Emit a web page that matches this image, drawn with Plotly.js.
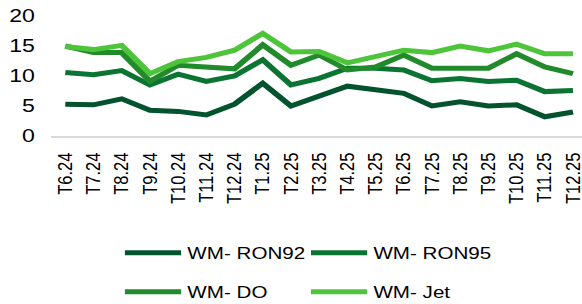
<!DOCTYPE html>
<html><head><meta charset="utf-8">
<script src="https://cdn.plot.ly/plotly-3.0.1.min.js"></script>
<style>html,body{margin:0;padding:0;background:#fff;overflow:hidden}
#c{width:466px;height:304px;transform:scaleX(1.24893);transform-origin:0 0}</style>
</head><body><div id="c"></div>
<script>
const categories = ["T6.24","T7.24","T8.24","T9.24","T10.24","T11.24","T12.24","T1.25","T2.25","T3.25","T4.25","T5.25","T6.25","T7.25","T8.25","T9.25","T10.25","T11.25","T12.25"];
const ron92 = [5.3,5.2,6.2,4.3,4.1,3.5,5.3,8.8,5.0,6.7,8.3,7.7,7.1,5.0,5.7,5.0,5.2,3.2,4.0];
const ron95 = [10.6,10.2,10.9,8.5,10.3,9.1,10.0,12.7,8.5,9.6,11.3,11.3,11.0,9.2,9.6,9.1,9.3,7.4,7.6];
const dieselDO = [15.0,13.9,13.9,9.1,11.8,11.4,11.2,15.2,11.8,13.5,11.0,11.5,13.5,11.3,11.3,11.3,13.7,11.5,10.4];
const jet = [14.9,14.4,15.1,10.4,12.4,13.1,14.3,17.1,14.0,14.1,12.2,13.2,14.3,13.9,15.0,14.2,15.3,13.7,13.7];
const yTicks = [0,5,10,15,20];

const font = "Liberation Sans, Arial, sans-serif";
function tr(name, y, color, leg){
  return {x: categories, y: y, name: name, type: "scatter", mode: "lines",
    line: {color: color, width: 5}, legend: leg, hoverinfo: "skip"};
}
const data = [
  tr("WM- RON92", ron92, "#03532f", "legend"),
  tr("WM- RON95", ron95, "#0c7432", "legend2"),
  tr("WM- DO", dieselDO, "#218a2a", "legend3"),
  tr("WM- Jet", jet, "#4ec43a", "legend4")
];
const legCommon = {orientation: "h", xanchor: "left", yanchor: "middle",
  font: {family: font, size: 16.5, color: "#000"},
  itemwidth: 45, bgcolor: "rgba(0,0,0,0)", xref: "container", yref: "container"};
const col1 = 95/466, col2 = 244/466, row1 = 1 - 253/304, row2 = 1 - 292/304;
const layout = {
  width: 466, height: 304,
  margin: {l: 41, r: 0, t: 16, b: 168},
  paper_bgcolor: "#fff", plot_bgcolor: "#fff",
  font: {family: font, size: 16.5, color: "#000"},
  xaxis: {type: "category", range: [-0.5, 18.32], tickangle: -90, showgrid: false,
    showline: true, linecolor: "#d9d9d9", linewidth: 2, ticks: "", zeroline: false,
    tickfont: {family: font, size: 16.5, color: "#000"}, ticklabelstandoff: 8, fixedrange: true},
  yaxis: {range: [0, 20], tickvals: yTicks, showgrid: false, showline: false, zeroline: false,
    ticks: "", tickfont: {family: font, size: 18.5, color: "#000"}, ticklabelstandoff: 12, fixedrange: true},
  showlegend: true,
  legend: Object.assign({}, legCommon, {x: col1, y: row1}),
  legend2: Object.assign({}, legCommon, {x: col2, y: row1}),
  legend3: Object.assign({}, legCommon, {x: col1, y: row2}),
  legend4: Object.assign({}, legCommon, {x: col2, y: row2})
};
Plotly.newPlot("c", data, layout, {displayModeBar: false, staticPlot: true});
</script></body></html>
